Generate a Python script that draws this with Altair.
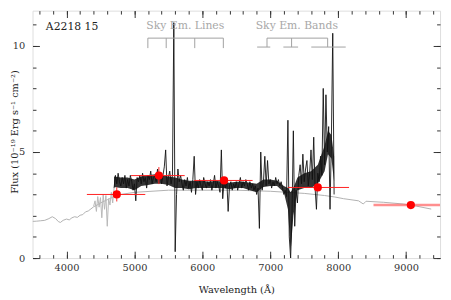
import altair as alt
import pandas as pd

FONT = "DejaVu Serif"

# ---------------- data ----------------
# model template (light grey)
tmpl_wave = [3500, 3560, 3620, 3680, 3740, 3790, 3840, 3880, 3910, 3950, 4000, 4040, 4080,
             4120, 4160, 4200, 4240, 4280, 4320, 4360, 4400, 4450, 4500, 4600, 4700, 4800,
             5000, 5500, 6000, 6500, 7000, 7500, 7800, 7950, 8080, 8300, 8370, 8410, 8670,
             8960, 9150, 9370]
tmpl_flux = [1.73, 1.74, 1.76, 1.78, 1.86, 1.95, 1.86, 1.72, 1.68, 1.78, 1.84, 1.80, 1.90,
             1.95, 1.92, 2.02, 2.05, 2.18, 2.22, 2.32, 2.42, 2.50, 2.60, 2.75, 2.90, 3.00,
             3.10, 3.20, 3.20, 3.20, 3.15, 3.05, 2.95, 2.88, 2.80, 2.70, 2.55, 2.68, 2.63,
             2.55, 2.45, 2.31]

# low S/N blue end of the observed spectrum (grey)
blue_wave = list(range(4400, 4720, 20))
blue_flux = [2.45, 2.7, 2.2, 2.9, 2.4, 2.85, 1.9, 3.0, 2.3, 2.95, 1.5, 2.8, 2.5, 3.1, 2.6, 3.3]

# observed spectrum (black)
obs_wave = list(range(4700, 7960, 20))
obs_flux = [
    3.3, 3.9, 3.5, 4.0, 3.6, 3.4, 3.8, 3.5, 3.9, 3.3,
    3.7, 3.4, 3.9, 3.6, 3.2, 3.5, 2.7, 3.8, 3.6, 3.9,
    3.5, 4.0, 3.6, 3.8, 3.3, 3.9, 3.7, 4.1, 3.5, 3.8,
    3.9, 3.6, 4.2, 3.7, 4.0, 3.5, 3.9, 4.3, 5.1, 3.4,
    3.8, 4.1, 3.5, 3.9, 11.1, 0.3, 3.0, 4.2, 3.6, 3.9,
    3.5, 3.2, 3.7, 3.4, 3.8, 3.3, 3.6, 3.1, 3.7, 4.8,
    3.0, 3.6, 3.3, 3.7, 3.4, 3.2, 3.8, 3.5, 3.3, 3.6,
    3.4, 3.7, 3.2, 3.5, 3.9, 3.3, 3.6, 3.4, 3.1, 5.1,
    2.8, 3.6, 3.3, 3.7, 2.2, 3.4, 3.6, 3.2, 3.5, 3.3,
    3.6, 3.2, 3.5, 3.8, 3.3, 3.6, 3.4, 3.7, 3.5, 3.2,
    3.6, 3.3, 3.5, 3.2, 3.4, 3.0, 3.3, 1.4, 5.0, 3.2,
    3.6, 4.8, 3.4, 4.6, 3.5, 3.7, 3.3, 3.6, 3.4, 3.8,
    3.5, 3.7, 3.4, 3.6, 3.3, 3.0, 3.2, 2.9, 6.5, 1.0,
    0.0, 2.0, 6.0, 1.5, 3.2, 2.6, 3.9, 4.4, 3.5, 4.9,
    3.6, 4.2, 4.6, 3.4, 4.0, 5.1, 3.7, 5.7, 3.3, 2.3,
    4.0, 3.6, 4.8, 3.9, 8.0, 4.4, 7.7, 5.0, 6.2, 2.3,
    5.6, 10.6, 3.0,
]

# dense noise band of the observed spectrum (lower / upper edge)
band_wave = [4700, 4800, 4900, 5000, 5100, 5200, 5300, 5400, 5500, 5600, 5700, 5800, 5900,
             6000, 6100, 6200, 6300, 6400, 6500, 6600, 6700, 6800, 6900, 7000, 7100, 7200,
             7260, 7300, 7340, 7400, 7500, 7600, 7700, 7800, 7850, 7900, 7940]
band_low = [3.35, 3.3, 3.3, 3.2, 3.4, 3.45, 3.5, 3.5, 3.45, 3.3, 3.3, 3.25, 3.3,
            3.3, 3.3, 3.3, 3.3, 3.25, 3.3, 3.3, 3.2, 3.1, 3.35, 3.4, 3.4, 3.1,
            2.3, 0.3, 2.0, 3.2, 3.3, 3.3, 3.5, 4.1, 4.9, 4.7, 3.6]
band_high = [3.85, 3.8, 3.8, 3.7, 3.85, 3.9, 3.95, 3.9, 3.85, 3.8, 3.7, 3.65, 3.65,
             3.65, 3.6, 3.65, 3.6, 3.55, 3.6, 3.6, 3.55, 3.5, 3.7, 3.7, 3.65, 3.4,
             3.3, 3.1, 3.3, 3.8, 4.0, 4.1, 4.4, 5.3, 6.0, 5.8, 4.8]

# broad-band photometry (red)
phot_wave = [4740, 5360, 6320, 7700, 9070]
phot_flux = [3.0, 3.89, 3.66, 3.33, 2.5]
phot_lo = [4300, 4950, 5880, 7260, 8520]
phot_hi = [5160, 5740, 6740, 8160, 9500]
phot_err = [0.33, 0.4, 0.15, 0.15, 0.1]

# sky emission annotations
line_marks = [5198, 5468, 5888, 6309]
band_stems = [6952, 7314, 7845]
band_lo = [6807, 7193, 7604]
band_hi = [7000, 7410, 8111]
brk_top = 10.37
brk_bot_lines = 9.9
brk_bot_bands = 9.95

labels_txt = ["Sky Em. Lines", "Sky Em. Bands"]
labels_x = [5749, 7391]
labels_y = [10.93, 10.93]

x_major = [4000, 5000, 6000, 7000, 8000, 9000]
x_minor = list(range(3600, 9500, 200))
y_major = [0, 5, 10]
y_minor = list(range(0, 12))

# ---------------- frames ----------------
tmpl = pd.DataFrame({"w": tmpl_wave, "f": tmpl_flux})
blue = pd.DataFrame({"w": blue_wave, "f": blue_flux})
obs = pd.DataFrame({"w": obs_wave, "f": obs_flux})
band = pd.DataFrame({"w": band_wave, "lo": band_low, "hi": band_high})
phot = pd.DataFrame({"w": phot_wave, "f": phot_flux, "lo": phot_lo, "hi": phot_hi,
                     "flo": [a - b for a, b in zip(phot_flux, phot_err)],
                     "fhi": [a + b for a, b in zip(phot_flux, phot_err)]})
phot_main = phot.iloc[:4]
phot_last = phot.iloc[4:]

lines_v = pd.DataFrame({"w": line_marks, "y1": brk_top, "y2": brk_bot_lines})
lines_h = pd.DataFrame({"w1": [min(line_marks)], "w2": [max(line_marks)], "y": [brk_top]})
bands_v = pd.DataFrame({"w": band_stems, "y1": brk_top, "y2": brk_bot_bands})
bands_h = pd.DataFrame({"w1": [min(band_stems)] + band_lo, "w2": [max(band_stems)] + band_hi,
                        "y": [brk_top] + [brk_bot_bands] * 3})
lab = pd.DataFrame({"t": labels_txt, "w": labels_x, "f": labels_y})
obj = pd.DataFrame({"t": ["A2218 15"], "w": [3696], "f": [10.9]})

XS = alt.Scale(domain=[3500, 9500], nice=False, zero=False)
YS = alt.Scale(domain=[0, 252 / 21.6], nice=False, zero=False)
TICK = "#333333"


def xaxis(orient, major, labels=False):
    L = 7 if major else 3.5
    kw = dict(orient=orient, values=x_major if major else x_minor, tickSize=L, offset=-L,
              domain=False, grid=False, tickColor=TICK, tickWidth=1, labels=labels)
    if labels:
        kw.update(format="d", labelFont=FONT, labelFontSize=10, labelPadding=5,
                  labelColor="#333",
                  title="Wavelength (Å)", titleFont=FONT, titleFontSize=10,
                  titleFontWeight="normal", titleColor="#222", titleY=39,
                  titleBaseline="middle")
    else:
        kw["title"] = None
    return alt.Axis(**kw)


def yaxis(orient, major, labels=False):
    L = 7 if major else 3.5
    kw = dict(orient=orient, values=y_major if major else y_minor, tickSize=L, offset=-L,
              domain=False, grid=False, tickColor=TICK, tickWidth=1, labels=labels)
    if labels:
        kw.update(format="d", labelFont=FONT, labelFontSize=10, labelPadding=8,
                  labelColor="#333",
                  title="Flux (10⁻¹⁹ Erg s⁻¹ cm⁻²)", titleFont=FONT, titleFontSize=10,
                  titleFontWeight="normal", titleColor="#222", titleX=-25, titleY=123,
                  titleBaseline="middle")
    else:
        kw["title"] = None
    return alt.Axis(**kw)


l_tmpl = alt.Chart(tmpl).mark_line(color="#b0b0b0", strokeWidth=1, clip=True).encode(
    x=alt.X("w:Q", scale=XS, axis=xaxis("bottom", True, True)),
    y=alt.Y("f:Q", scale=YS, axis=yaxis("left", True, True)))

l_blue = alt.Chart(blue).mark_line(color="#b8b8b8", strokeWidth=1, clip=True).encode(
    x=alt.X("w:Q", scale=XS, axis=xaxis("bottom", False)),
    y=alt.Y("f:Q", scale=YS, axis=yaxis("left", False)))

l_band = alt.Chart(band).mark_area(color="#111111", opacity=0.85, clip=True).encode(
    x=alt.X("w:Q", scale=XS, axis=None),
    y=alt.Y("lo:Q", scale=YS, axis=None), y2="hi:Q")

l_obs = alt.Chart(obs).mark_line(color="#111111", strokeWidth=0.9, clip=True).encode(
    x=alt.X("w:Q", scale=XS, axis=xaxis("top", True)),
    y=alt.Y("f:Q", scale=YS, axis=yaxis("right", True)))

l_err = alt.Chart(phot_main).mark_rule(color="#ff2020", strokeWidth=1).encode(
    x=alt.X("lo:Q", scale=XS, axis=xaxis("top", False)), x2="hi:Q",
    y=alt.Y("f:Q", scale=YS, axis=yaxis("right", False)))

l_err_last = alt.Chart(phot_last).mark_rule(color="#ff6060", strokeWidth=2.5, opacity=0.7,
                                            clip=True).encode(
    x=alt.X("lo:Q", scale=XS, axis=None), x2="hi:Q",
    y=alt.Y("f:Q", scale=YS, axis=None))

l_verr = alt.Chart(phot).mark_rule(color="#ff2020", strokeWidth=1).encode(
    x=alt.X("w:Q", scale=XS, axis=None),
    y=alt.Y("flo:Q", scale=YS, axis=None), y2="fhi:Q")

l_pts = alt.Chart(phot).mark_point(filled=True, shape="circle", size=70, color="#ff0000",
                                   opacity=1).encode(
    x=alt.X("w:Q", scale=XS, axis=None),
    y=alt.Y("f:Q", scale=YS, axis=None))

GREY = "#a0a0a0"
r1 = alt.Chart(lines_v).mark_rule(color=GREY, strokeWidth=1).encode(
    x=alt.X("w:Q", scale=XS, axis=None), y=alt.Y("y1:Q", scale=YS, axis=None), y2="y2:Q")
r2 = alt.Chart(lines_h).mark_rule(color=GREY, strokeWidth=1).encode(
    x=alt.X("w1:Q", scale=XS, axis=None), x2="w2:Q", y=alt.Y("y:Q", scale=YS, axis=None))
r3 = alt.Chart(bands_v).mark_rule(color=GREY, strokeWidth=1).encode(
    x=alt.X("w:Q", scale=XS, axis=None), y=alt.Y("y1:Q", scale=YS, axis=None), y2="y2:Q")
r4 = alt.Chart(bands_h).mark_rule(color=GREY, strokeWidth=1).encode(
    x=alt.X("w1:Q", scale=XS, axis=None), x2="w2:Q", y=alt.Y("y:Q", scale=YS, axis=None))

t1 = alt.Chart(lab).mark_text(font=FONT, fontSize=11, color="#a8a8a8", align="center",
                              baseline="middle").encode(
    x=alt.X("w:Q", scale=XS, axis=None), y=alt.Y("f:Q", scale=YS, axis=None), text="t:N")
t2 = alt.Chart(obj).mark_text(font=FONT, fontSize=11, color="#222", align="left",
                              baseline="middle").encode(
    x=alt.X("w:Q", scale=XS, axis=None), y=alt.Y("f:Q", scale=YS, axis=None), text="t:N")

chart = alt.layer(
    l_tmpl, l_blue, l_band, l_obs, l_err, l_err_last, l_verr, l_pts, r1, r2, r3, r4, t1, t2
).resolve_axis(x="independent", y="independent").properties(
    width=415, height=252,
    autosize=alt.AutoSizeParams(type="none"),
    padding={"left": 25, "top": 0, "right": 3, "bottom": 40},
).configure_view(stroke="#333333", strokeWidth=1).configure(background="white")

chart.save("out.html", embed_options={"renderer": "svg", "actions": False})
